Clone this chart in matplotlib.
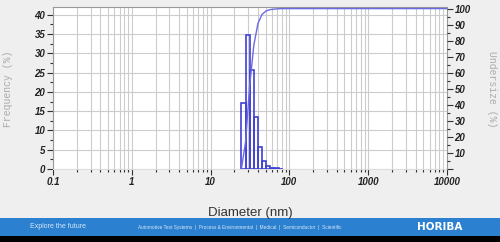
import matplotlib.pyplot as plt
from matplotlib.ticker import MultipleLocator, LogLocator, NullFormatter
import numpy as np

# bin edges (nm) and frequency (%)
bin_edges = [24.6, 27.8, 31.3, 35.4, 39.9, 45.0, 50.8, 57.3, 64.7, 73.0, 82.4]
frequency = [17.0, 34.7, 25.6, 13.5, 5.6, 2.2, 0.8, 0.3, 0.2, 0.1]

# undersize (%) at each bin edge, plus the flat end of the curve
undersize_x = [24.6, 27.8, 31.3, 35.4, 39.9, 45.0, 50.8, 57.3, 64.7, 73.0, 82.4, 10000]
undersize_y = [0, 17.0, 51.7, 77.3, 90.8, 96.4, 98.6, 99.4, 99.7, 99.9, 100, 100]

x_ticks = [0.1, 1, 10, 100, 1000, 10000]
x_labels = ['0.1', '1', '10', '100', '1000', '10000']
left_ticks = [0, 5, 10, 15, 20, 25, 30, 35, 40]
right_ticks = [0, 10, 20, 30, 40, 50, 60, 70, 80, 90, 100]

W, H = 500, 242
fig = plt.figure(figsize=(W / 100, H / 100), dpi=100, facecolor='#efefef')

ax = fig.add_axes([53 / W, 1 - 169 / H, (447 - 53) / W, (169 - 7) / H])
ax.set_facecolor('white')
ax.set_xscale('log')
ax.set_xlim(0.1, 10000)
ax.set_ylim(0, 42)

tick_font = dict(family='Liberation Sans', weight='bold', style='italic', size=7)
grid_col = '#cccccc'

# frequency bars: outlined, no fill
widths = np.diff(bin_edges)
ax.bar(bin_edges[:-1], frequency, width=widths, align='edge', fill=False,
       edgecolor='#4040d8', linewidth=1.2, zorder=3)

ax.set_xticks(x_ticks)
ax.set_xticklabels(x_labels, fontdict=tick_font, color='#222222')
ax.xaxis.set_minor_locator(LogLocator(base=10, subs=np.arange(2, 10)))
ax.xaxis.set_minor_formatter(NullFormatter())
ax.set_yticks(left_ticks)
ax.set_yticklabels([str(v) for v in left_ticks], fontdict=tick_font, color='#222222')
ax.yaxis.set_minor_locator(MultipleLocator(2.5))

ax.tick_params(which='major', length=4, width=0.8, color='#333333', pad=1.5)
ax.tick_params(which='minor', length=2, width=0.8, color='#333333')
ax.grid(True, which='both', axis='x', color=grid_col, linewidth=0.8)
ax.grid(True, which='major', axis='y', color=grid_col, linewidth=0.8)
ax.set_axisbelow(True)

for side in ['left', 'top', 'right']:
    ax.spines[side].set_color('#999999')
    ax.spines[side].set_linewidth(0.8)
ax.spines['bottom'].set_color('#dddddd')

# cumulative undersize on the right axis
ax2 = ax.twinx()
ax2.set_ylim(0, 101)
ax2.plot(undersize_x, undersize_y, color='#6a6ae2', linewidth=1.0, zorder=4)
ax2.set_yticks(right_ticks)
ax2.set_yticklabels([''] + [str(v) for v in right_ticks[1:]], fontdict=tick_font,
                    color='#222222')
ax2.yaxis.set_minor_locator(MultipleLocator(5))
ax2.tick_params(which='major', length=4, width=0.8, color='#333333', pad=1.5)
ax2.tick_params(which='minor', length=2, width=0.8, color='#333333')
for side in ['left', 'top', 'right', 'bottom']:
    ax2.spines[side].set_visible(False)

# axis titles
fig.text(8 / W, 1 - 89 / H, 'Frequency (%)', rotation=90, ha='center', va='center',
         family='Liberation Mono', fontsize=7, color='#aaaaaa')
fig.text(492 / W, 1 - 89 / H, 'Undersize (%)', rotation=270, ha='center', va='center',
         family='Liberation Mono', fontsize=7, color='#aaaaaa')
fig.text(250 / W, 1 - 213 / H, 'Diameter (nm)', ha='center', va='center',
         family='Liberation Sans', fontsize=9.5, color='#333333')

# footer banner
fig.patches.append(plt.Rectangle((0, 1 - 236 / H), 1, 18 / H, transform=fig.transFigure,
                                 facecolor='#2b80cf', edgecolor='none', zorder=0))
fig.patches.append(plt.Rectangle((0, 0), 1, 1 - 236 / H, transform=fig.transFigure,
                                 facecolor='black', edgecolor='none', zorder=0))
fig.text(30 / W, 1 - 227 / H, 'Explore the future', ha='left', va='center',
         family='Liberation Sans', fontsize=5, color='#d6e8f8')
fig.text(138 / W, 1 - 227 / H,
         'Automotive Test Systems  |  Process & Environmental  |  Medical  |  Semiconductor  |  Scientific',
         ha='left', va='center', family='Liberation Sans', fontsize=3.4, color='#d6e8f8')
fig.text(440 / W, 1 - 227 / H, 'HORIBA', ha='center', va='center',
         family='DejaVu Sans', weight='bold', fontsize=7.5, color='white')

fig.savefig('out.png', dpi=100, facecolor=fig.get_facecolor())
